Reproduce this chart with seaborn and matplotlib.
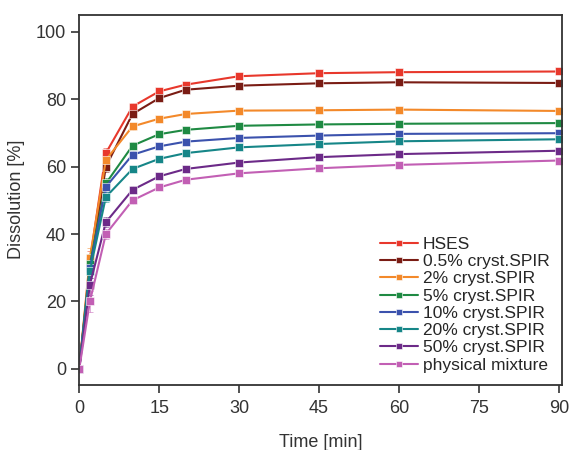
import matplotlib
matplotlib.use("Agg")
import matplotlib.pyplot as plt
import seaborn as sns
import pandas as pd

# Time points [min]
time = [0, 2, 5, 10, 15, 20, 30, 45, 60, 90]

# Dissolution [%] per formulation
hses = [0, 32, 64, 77.8, 82.3, 84.3, 86.8, 87.7, 88.0, 88.2]
spir_05 = [0, 30, 60, 75.6, 80.3, 82.8, 84.0, 84.7, 85.0, 84.8]
spir_2 = [0, 33, 62, 71.9, 74.2, 75.6, 76.6, 76.7, 76.9, 76.5]
spir_5 = [0, 31, 55, 66.2, 69.6, 70.9, 72.1, 72.5, 72.7, 72.9]
spir_10 = [0, 30, 54, 63.5, 66.0, 67.4, 68.5, 69.2, 69.7, 69.9]
spir_20 = [0, 29, 51, 59.3, 62.3, 64.0, 65.7, 66.7, 67.5, 68.1]
spir_50 = [0, 25, 43.5, 53.1, 57.1, 59.3, 61.2, 62.8, 63.7, 64.7]
phys_mix = [0, 20, 40, 50.0, 53.8, 56.1, 58.0, 59.5, 60.5, 61.8]

# approximate standard deviations (mostly visible at early points)
sd_early = [0, 3, 1.5, 1, 0.8, 0.6, 0.6, 0.6, 0.6, 0.6]

labels = ["HSES", "0.5% cryst.SPIR", "2% cryst.SPIR", "5% cryst.SPIR",
          "10% cryst.SPIR", "20% cryst.SPIR", "50% cryst.SPIR",
          "physical mixture"]
series = [hses, spir_05, spir_2, spir_5, spir_10, spir_20, spir_50, phys_mix]
colors = ["#e8382c", "#7a1c14", "#f3892a", "#1f8a43", "#3b52ad",
          "#168688", "#6c2a88", "#c25fb4"]

rows = []
for lab, vals in zip(labels, series):
    for t, v in zip(time, vals):
        rows.append({"Time": t, "Dissolution": v, "Formulation": lab})
df = pd.DataFrame(rows)

sns.set_style("ticks")
plt.rcParams["font.family"] = ["Liberation Sans", "DejaVu Sans"]

fig = plt.figure(figsize=(5.7, 4.5), dpi=100)
ax = fig.add_axes([0.139, 0.145, 0.847, 0.822])

for lab, vals, c in zip(labels, series, colors):
    ax.errorbar(time, vals, yerr=sd_early, fmt="none", ecolor=c,
                elinewidth=0.6, capsize=2, capthick=0.6, alpha=0.6)

sns.lineplot(
    data=df, x="Time", y="Dissolution", hue="Formulation",
    hue_order=labels, palette=colors, marker="s", markersize=6,
    markeredgecolor="white", markeredgewidth=0.4, linewidth=1.5,
    ax=ax
)

ax.set_xlim(0, 90.6)
ax.set_ylim(-4.7, 105)
ax.set_xticks([0, 15, 30, 45, 60, 75, 90])
ax.set_yticks([0, 20, 40, 60, 80, 100])
ax.tick_params(labelsize=13, length=6, width=1.2, colors="#333333",
               labelcolor="#333333")
ax.tick_params(axis="x", pad=5)
for s in ax.spines.values():
    s.set_linewidth(1.3)
    s.set_color("#333333")

ax.set_xlabel("Time [min]", fontsize=13, color="#333333", labelpad=12)
ax.set_ylabel("Dissolution [%]", fontsize=13, color="#333333", labelpad=8)

handles, labs = ax.get_legend_handles_labels()
for h in handles:
    h.set_markersize(4)
ax.legend(handles, labs, loc="lower right", bbox_to_anchor=(1.0, 0.0),
          frameon=False, fontsize=12.5, handlelength=2.2, handletextpad=0.3,
          labelspacing=0.12, borderaxespad=0.3)

plt.savefig("out.png", dpi=100)
plt.close()
